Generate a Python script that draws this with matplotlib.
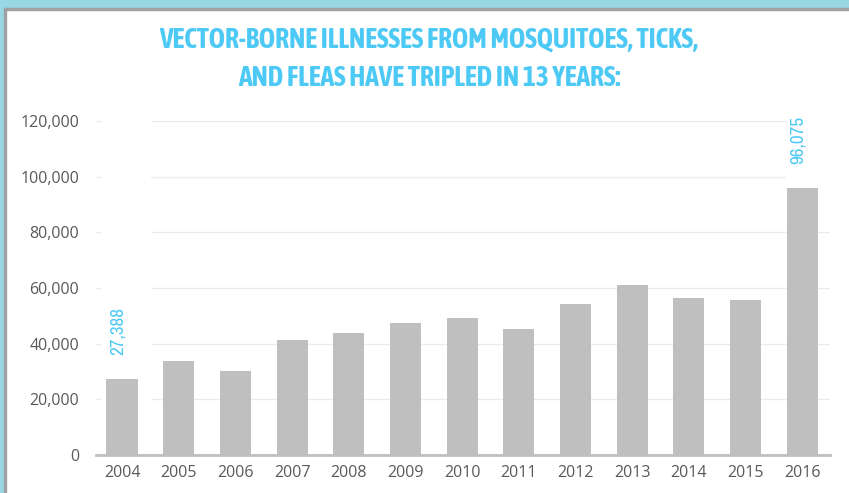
import matplotlib
matplotlib.use("Agg")
import matplotlib.pyplot as plt
from matplotlib import font_manager
from matplotlib.patches import Rectangle

# data
years = ["2004", "2005", "2006", "2007", "2008", "2009", "2010",
         "2011", "2012", "2013", "2014", "2015", "2016"]
cases = [27388, 33800, 30200, 41200, 43700, 47400, 49100,
         45200, 54200, 61100, 56300, 55600, 96075]
labelled = {0: "27,388", 12: "96,075"}
yticks = [0, 20000, 40000, 60000, 80000, 100000, 120000]

title1 = "VECTOR-BORNE ILLNESSES FROM MOSQUITOES, TICKS,"
title2 = "AND FLEAS HAVE TRIPLED IN 13 YEARS:"

blue = "#4CC9F4"
grey_txt = "#595959"


def _weight(f):
    w = f.weight
    if isinstance(w, str):
        w = {"light": 300, "normal": 400, "regular": 400, "medium": 500,
             "semibold": 600, "bold": 700, "heavy": 800, "black": 900}.get(w, 400)
    return w


# pick narrow faces if installed: a bold one for the title, a regular one for labels
narrow = [f for f in font_manager.fontManager.ttflist
          if ("Narrow" in f.name or "Condensed" in f.name) and f.style == "normal"]
title_font = dict(family="DejaVu Sans", fontstretch="condensed", fontweight="bold")
label_font = dict(family="DejaVu Sans", fontstretch="condensed")
bold = sorted([f for f in narrow if _weight(f) >= 600],
              key=lambda f: abs(_weight(f) - 650))
reg = sorted(narrow, key=lambda f: abs(_weight(f) - 400))
if bold:
    title_font = dict(fname=bold[0].fname)
if reg:
    label_font = dict(fname=reg[0].fname)


def fp(d):
    if "fname" in d:
        return font_manager.FontProperties(fname=d["fname"])
    return font_manager.FontProperties(family=d["family"], stretch=d["fontstretch"],
                                       weight=d.get("fontweight", "normal"))


W, H = 849, 493
fig = plt.figure(figsize=(W / 100, H / 100), dpi=100)
fig.patch.set_facecolor("white")

# frame bands (top and left)
fig.patches.append(Rectangle((0, 1 - 8 / H), 1, 8 / H, transform=fig.transFigure,
                             color="#97D8E4", zorder=0))
fig.patches.append(Rectangle((0, 1 - 10 / H), 1, 2 / H, transform=fig.transFigure,
                             color="#A0A0A0", zorder=0))
fig.patches.append(Rectangle((0, 0), 4 / W, 1, transform=fig.transFigure,
                             color="#97D8E4", zorder=0))
fig.patches.append(Rectangle((4 / W, 0), 2 / W, 1 - 8 / H, transform=fig.transFigure,
                             color="#A0A0A0", zorder=0))

ax = fig.add_axes([96 / W, (H - 455) / H, (830 - 96) / W, (455 - 121) / H])
x = list(range(len(years)))
ax.bar(x, cases, width=0.55, color="#BFBFBF", zorder=3)

ax.set_xlim(-0.46, 12.49)
ax.set_ylim(0, 120000)
ax.set_yticks(yticks)
ax.set_yticklabels([f"{v:,}" for v in yticks])
ax.set_xticks(x)
ax.set_xticklabels(years)
ax.tick_params(length=0, labelsize=11.5, labelcolor=grey_txt)
ax.tick_params(axis="y", pad=12)
ax.tick_params(axis="x", pad=7)
for lab in ax.get_xticklabels() + ax.get_yticklabels():
    lab.set_family("Open Sans")

ax.grid(axis="y", color="#EBEBEB", linewidth=1, zorder=0)
ax.set_axisbelow(True)
for s in ["top", "right", "left"]:
    ax.spines[s].set_visible(False)
ax.spines["bottom"].set_color("#BFBFBF")
ax.spines["bottom"].set_linewidth(2)
ax.spines["bottom"].set_zorder(4)

# white boxes behind the value labels hide the gridlines there
ax.add_patch(Rectangle((-0.36, 1000), 0.86, 120000, color="white", zorder=1))
ax.add_patch(Rectangle((11.72, 97500), 0.8, 25000, color="white", zorder=1))

vals = []
for i, txt in labelled.items():
    p = fp(label_font)
    p.set_size(13)
    t = ax.text(i - 0.08, cases[i] + 8500, txt, rotation=90, ha="center", va="bottom",
                color=blue, fontproperties=p, zorder=5)
    vals.append(t)

tp = fp(title_font)
tp.set_size(21)
t1 = fig.text(0.505, 1 - 40 / H, title1, ha="center", va="center", color=blue,
              fontproperties=tp)
t2 = fig.text(0.505, 1 - 78 / H, title2, ha="center", va="center", color=blue,
              fontproperties=tp.copy())

# size the title so its first line spans about 542 px, as in the source
fig.canvas.draw()
r = fig.canvas.get_renderer()
w = t1.get_window_extent(r).width
size = min(21 * 542 / w, 26)
t1.set_fontsize(size)
t2.set_fontsize(size)
# value labels about 48 px long
lw = vals[0].get_window_extent(r).height
for t in vals:
    t.set_fontsize(min(13 * 48 / lw, 14))

fig.savefig("out.png", dpi=100)
